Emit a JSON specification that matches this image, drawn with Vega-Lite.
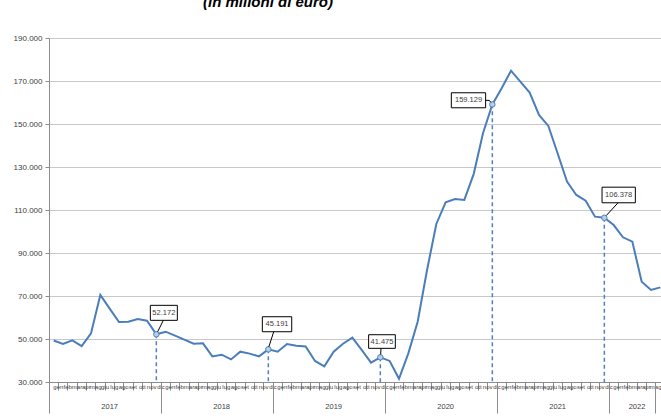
{
  "$schema": "https://vega.github.io/schema/vega-lite/v6.json",
  "width": 616,
  "height": 344,
  "autosize": {"type": "none"},
  "padding": {"left": 49, "top": 38, "right": 0, "bottom": 38},
  "background": "#ffffff",
  "title": {
    "text": "(in milioni di euro)",
    "fontSize": 15,
    "fontWeight": "bold",
    "fontStyle": "italic",
    "font": "Liberation Sans",
    "color": "#000000",
    "anchor": "middle",
    "frame": "group",
    "dx": -89,
    "offset": 12,
    "baseline": "alphabetic"
  },
  "config": {
    "view": {"stroke": null},
    "font": "Liberation Sans",
    "locale": {
      "number": {"decimal": ",", "thousands": ".", "grouping": [3], "currency": ["€", ""]}
    }
  },
  "data": {
    "values": [
      {"mese": "2017-01", "valore": 49300}, {"mese": "2017-02", "valore": 47700}, {"mese": "2017-03", "valore": 49400},
      {"mese": "2017-04", "valore": 46700}, {"mese": "2017-05", "valore": 52600}, {"mese": "2017-06", "valore": 70500},
      {"mese": "2017-07", "valore": 64100}, {"mese": "2017-08", "valore": 57900}, {"mese": "2017-09", "valore": 58000},
      {"mese": "2017-10", "valore": 59300}, {"mese": "2017-11", "valore": 58500}, {"mese": "2017-12", "valore": 52172},
      {"mese": "2018-01", "valore": 53400}, {"mese": "2018-02", "valore": 51600}, {"mese": "2018-03", "valore": 49700},
      {"mese": "2018-04", "valore": 47800}, {"mese": "2018-05", "valore": 48000}, {"mese": "2018-06", "valore": 41900},
      {"mese": "2018-07", "valore": 42700}, {"mese": "2018-08", "valore": 40500}, {"mese": "2018-09", "valore": 44100},
      {"mese": "2018-10", "valore": 43200}, {"mese": "2018-11", "valore": 41900}, {"mese": "2018-12", "valore": 45191},
      {"mese": "2019-01", "valore": 44100}, {"mese": "2019-02", "valore": 47700}, {"mese": "2019-03", "valore": 46900},
      {"mese": "2019-04", "valore": 46500}, {"mese": "2019-05", "valore": 39800}, {"mese": "2019-06", "valore": 37300},
      {"mese": "2019-07", "valore": 44100}, {"mese": "2019-08", "valore": 47800}, {"mese": "2019-09", "valore": 50600},
      {"mese": "2019-10", "valore": 44900}, {"mese": "2019-11", "valore": 39000}, {"mese": "2019-12", "valore": 41475},
      {"mese": "2020-01", "valore": 39800}, {"mese": "2020-02", "valore": 31500}, {"mese": "2020-03", "valore": 43300},
      {"mese": "2020-04", "valore": 58000}, {"mese": "2020-05", "valore": 82000}, {"mese": "2020-06", "valore": 103500},
      {"mese": "2020-07", "valore": 113600}, {"mese": "2020-08", "valore": 115100}, {"mese": "2020-09", "valore": 114700},
      {"mese": "2020-10", "valore": 126700}, {"mese": "2020-11", "valore": 145700}, {"mese": "2020-12", "valore": 159129},
      {"mese": "2021-01", "valore": 166600}, {"mese": "2021-02", "valore": 174800}, {"mese": "2021-03", "valore": 169700},
      {"mese": "2021-04", "valore": 164600}, {"mese": "2021-05", "valore": 154200}, {"mese": "2021-06", "valore": 149100},
      {"mese": "2021-07", "valore": 136300}, {"mese": "2021-08", "valore": 123200}, {"mese": "2021-09", "valore": 117000},
      {"mese": "2021-10", "valore": 114300}, {"mese": "2021-11", "valore": 106900}, {"mese": "2021-12", "valore": 106378},
      {"mese": "2022-01", "valore": 103000}, {"mese": "2022-02", "valore": 97300}, {"mese": "2022-03", "valore": 95300},
      {"mese": "2022-04", "valore": 76600}, {"mese": "2022-05", "valore": 72800}, {"mese": "2022-06", "valore": 74000}
    ]
  },
  "layer": [
    {
      "transform": [{"filter": "indexof(['2017-12','2018-12','2019-12','2020-12','2021-12'], datum.mese) >= 0"}],
      "mark": {"type": "rule", "color": "#4f81bd", "strokeWidth": 1.5, "strokeDash": [4, 3]},
      "encoding": {
        "x": {
          "field": "mese", "type": "ordinal",
          "axis": {
            "orient": "bottom",
            "values": ["2017-07", "2018-07", "2019-07", "2020-07", "2021-07", "2022-03"],
            "bandPosition": 0,
            "labelExpr": "substring(datum.value, 0, 4)",
            "labelOffset": {"condition": {"test": "datum.value == '2022-03'", "value": 4.67}, "value": 0},
            "ticks": false,
            "domain": false,
            "grid": false,
            "title": null,
            "labelAngle": 0,
            "labelFontSize": 7.5,
            "labelColor": "#404040",
            "labelBaseline": "middle",
            "labelPadding": 24,
            "labelOverlap": false
          }
        },
        "y": {"field": "valore", "type": "quantitative"},
        "y2": {"datum": 30000}
      }
    },
    {
      "mark": {"type": "line", "color": "#4a7ebb", "strokeWidth": 2},
      "encoding": {
        "x": {
          "field": "mese", "type": "ordinal",
          "scale": {"type": "band", "paddingInner": 0, "paddingOuter": 0},
          "axis": {
            "orient": "bottom",
            "bandPosition": 0,
            "title": null,
            "grid": false,
            "labelExpr": "datum.value == '2022-06' ? '' : ['gen','feb','mar','apr','mag','giu','lug','ago','set','ott','nov','dic'][toNumber(substring(datum.value, 5, 7)) - 1]",
            "labelOffset": 4.67,
            "labelAngle": 0,
            "labelFontSize": 6,
            "labelColor": "#404040",
            "labelBaseline": "top",
            "labelAlign": "center",
            "labelPadding": -7,
            "labelOverlap": false,
            "tickSize": 8,
            "tickColor": "#8c8c8c",
            "domainColor": "#8c8c8c"
          }
        },
        "y": {
          "field": "valore", "type": "quantitative",
          "scale": {"domain": [30000, 190000], "nice": false, "zero": false},
          "axis": {
            "title": null,
            "values": [30000, 50000, 70000, 90000, 110000, 130000, 150000, 170000, 190000],
            "format": ",.0f",
            "grid": true,
            "gridColor": "#c8c8c8",
            "tickSize": 4,
            "tickColor": "#8c8c8c",
            "domainColor": "#8c8c8c",
            "labelFontSize": 8,
            "labelColor": "#404040",
            "labelPadding": 3
          }
        }
      }
    },
    {
      "transform": [{"filter": "indexof(['2017-12','2018-12','2019-12','2020-12','2021-12'], datum.mese) >= 0"}],
      "mark": {"type": "point", "shape": "circle", "size": 30, "filled": true, "fill": "#b9cde5", "stroke": "#4f81bd", "strokeWidth": 1, "opacity": 1},
      "encoding": {
        "x": {
          "field": "mese", "type": "ordinal",
          "axis": {
            "orient": "bottom",
            "values": ["2017-01", "2018-01", "2019-01", "2020-01", "2021-01", "2022-01", "2022-06"],
            "bandPosition": 0,
            "labels": false,
            "domain": false,
            "grid": false,
            "title": null,
            "tickSize": 31,
            "tickColor": "#8c8c8c"
          }
        },
        "y": {"field": "valore", "type": "quantitative"}
      }
    },
    {
      "transform": [{"filter": "datum.mese == '2017-12'"}],
      "encoding": {
        "x": {"field": "mese", "type": "ordinal", "axis": null},
        "y": {"field": "valore", "type": "quantitative"},
        "text": {"field": "valore", "type": "quantitative", "format": ","}
      },
      "layer": [
        {"mark": {"type": "point", "shape": "M-6,-29H21V-14H-6Z M7,-14L1.3,-2.5", "size": 4, "filled": true, "fill": "#ffffff", "stroke": "#000000", "strokeWidth": 1, "opacity": 1}},
        {"mark": {"type": "text", "dx": 7.5, "dy": -21.5, "fontSize": 7.5, "color": "#404040", "align": "center", "baseline": "middle"}}
      ]
    },
    {
      "transform": [{"filter": "datum.mese == '2018-12'"}],
      "encoding": {
        "x": {"field": "mese", "type": "ordinal", "axis": null},
        "y": {"field": "valore", "type": "quantitative"},
        "text": {"field": "valore", "type": "quantitative", "format": ","}
      },
      "layer": [
        {"mark": {"type": "point", "shape": "M-6,-32.6H23.4V-17.6H-6Z M5.4,-17.6L0.5,-2.5", "size": 4, "filled": true, "fill": "#ffffff", "stroke": "#000000", "strokeWidth": 1, "opacity": 1}},
        {"mark": {"type": "text", "dx": 8.7, "dy": -25.1, "fontSize": 7.5, "color": "#404040", "align": "center", "baseline": "middle"}}
      ]
    },
    {
      "transform": [{"filter": "datum.mese == '2019-12'"}],
      "encoding": {
        "x": {"field": "mese", "type": "ordinal", "axis": null},
        "y": {"field": "valore", "type": "quantitative"},
        "text": {"field": "valore", "type": "quantitative", "format": ","}
      },
      "layer": [
        {"mark": {"type": "point", "shape": "M-11.7,-22.6H15V-9H-11.7Z M0.7,-9L0.3,-2.8", "size": 4, "filled": true, "fill": "#ffffff", "stroke": "#000000", "strokeWidth": 1, "opacity": 1}},
        {"mark": {"type": "text", "dx": 1.6, "dy": -15.8, "fontSize": 7.5, "color": "#404040", "align": "center", "baseline": "middle"}}
      ]
    },
    {
      "transform": [{"filter": "datum.mese == '2020-12'"}],
      "encoding": {
        "x": {"field": "mese", "type": "ordinal", "axis": null},
        "y": {"field": "valore", "type": "quantitative"},
        "text": {"field": "valore", "type": "quantitative", "format": ","}
      },
      "layer": [
        {"mark": {"type": "point", "shape": "M-41,-11.6H-6.7V3.4H-41Z M-6.7,-4L-3,-4L-1.5,-2", "size": 4, "filled": true, "fill": "#ffffff", "stroke": "#000000", "strokeWidth": 1, "opacity": 1}},
        {"mark": {"type": "text", "dx": -23.8, "dy": -4.1, "fontSize": 7.5, "color": "#404040", "align": "center", "baseline": "middle"}}
      ]
    },
    {
      "transform": [{"filter": "datum.mese == '2021-12'"}],
      "encoding": {
        "x": {"field": "mese", "type": "ordinal", "axis": null},
        "y": {"field": "valore", "type": "quantitative"},
        "text": {"field": "valore", "type": "quantitative", "format": ","}
      },
      "layer": [
        {"mark": {"type": "point", "shape": "M-2.3,-30.6H31V-15H-2.3Z M13.7,-15L2,-2.3", "size": 4, "filled": true, "fill": "#ffffff", "stroke": "#000000", "strokeWidth": 1, "opacity": 1}},
        {"mark": {"type": "text", "dx": 14.3, "dy": -22.8, "fontSize": 7.5, "color": "#404040", "align": "center", "baseline": "middle"}}
      ]
    }
  ],
  "resolve": {"axis": {"x": "independent"}}
}
